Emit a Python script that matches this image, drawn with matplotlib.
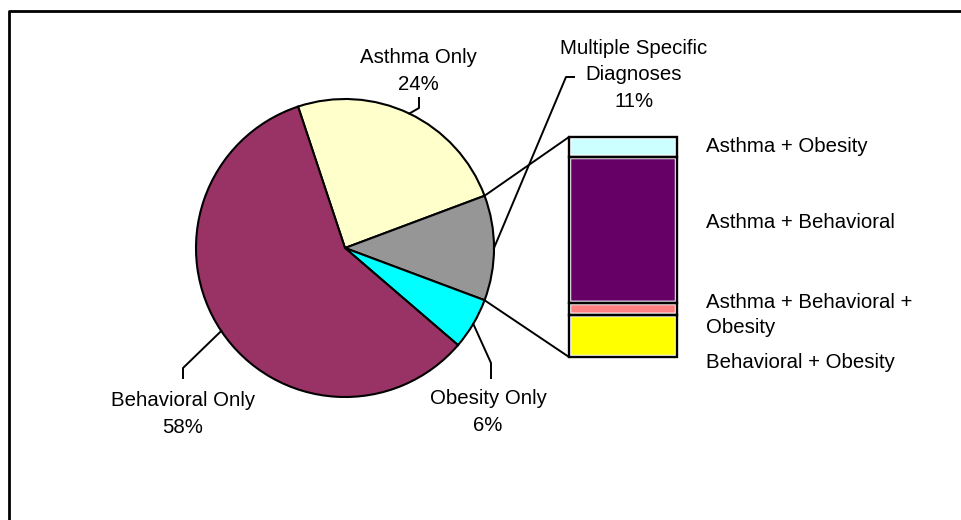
import matplotlib
matplotlib.use("Agg")
import matplotlib.pyplot as plt
import numpy as np

plt.rcParams['font.family'] = ['Liberation Sans', 'DejaVu Sans']

# data
pie_labels = ["Asthma Only", "Multiple Specific\nDiagnoses", "Obesity Only", "Behavioral Only"]
pie_values = [24.4, 11.4, 5.6, 58.6]
pie_pct = ["24%", "11%", "6%", "58%"]
pie_colors = ["#FFFFCC", "#969696", "#00FFFF", "#993366"]

bar_labels = ["Asthma + Obesity", "Asthma + Behavioral", "Asthma + Behavioral +\nObesity", "Behavioral + Obesity"]
bar_values = [0.091, 0.664, 0.055, 0.190]
bar_colors = ["#CCFFFF", "#660066", "#FF8080", "#FFFF00"]

# layout (pixel units, y measured upward)
W, H = 961, 520
center = (345, 272)
radius = 149
bar_x0, bar_w = 569, 108
bar_top, bar_h = 383, 220

label_xy = [(418, 449), (634, 445), (488, 108), (183, 106)]
elbow = [[(419, 412), (419, 422)], [(566, 443), (574, 443)], [(491, 157), (491, 142)], [(183, 152), (183, 142)]]
bar_label_y = [374, 298, 205, 158]

fig = plt.figure(figsize=(W / 100, H / 100), dpi=100)
ax = fig.add_axes([0, 0, 1, 1])

total = sum(pie_values)
wedges, _ = ax.pie(pie_values, colors=pie_colors, center=center, radius=radius,
                   startangle=360 * pie_values[0] / total + 180 * pie_values[1] / total,
                   counterclock=False, wedgeprops=dict(edgecolor="black", linewidth=1.5))

# labels + leader lines
for i, w in enumerate(wedges):
    mid = np.deg2rad((w.theta1 + w.theta2) / 2)
    px = center[0] + radius * np.cos(mid)
    py = center[1] + radius * np.sin(mid)
    xs = [px] + [p[0] for p in elbow[i]]
    ys = [py] + [p[1] for p in elbow[i]]
    ax.plot(xs, ys, color="black", lw=1.4)
    ax.text(label_xy[i][0], label_xy[i][1], pie_labels[i] + "\n" + pie_pct[i],
            ha="center", va="center", multialignment="center", fontsize=14.7, linespacing=1.47)

# stacked bar for the split slice
tops = bar_top - np.concatenate([[0], np.cumsum(bar_values)[:-1]]) * bar_h
heights = np.array(bar_values) * bar_h
ax.bar(np.full(4, bar_x0 + bar_w / 2), heights, bottom=tops - heights, width=bar_w,
       color=bar_colors, edgecolor="white", linewidth=3.2)
ax.bar(np.full(4, bar_x0 + bar_w / 2), heights, bottom=tops - heights, width=bar_w,
       fill=False, edgecolor="black", linewidth=1.7)

for lab, y in zip(bar_labels, bar_label_y):
    ax.text(706, y, lab, ha="left", va="center", fontsize=14.7, linespacing=1.37)

# connectors from split slice to bar
split = wedges[1]
for ang, by in [(split.theta2, bar_top), (split.theta1, bar_top - bar_h)]:
    a = np.deg2rad(ang)
    ax.plot([center[0] + radius * np.cos(a), bar_x0], [center[1] + radius * np.sin(a), by],
            color="black", lw=1.4)

# chart frame (cut off at right and bottom)
ax.plot([9, 9, W], [0, 509, 509], color="black", lw=2, clip_on=False)

ax.set_xlim(0, W)
ax.set_ylim(0, H)
ax.set_aspect("auto")
ax.axis("off")

plt.savefig("out.png", dpi=100)
